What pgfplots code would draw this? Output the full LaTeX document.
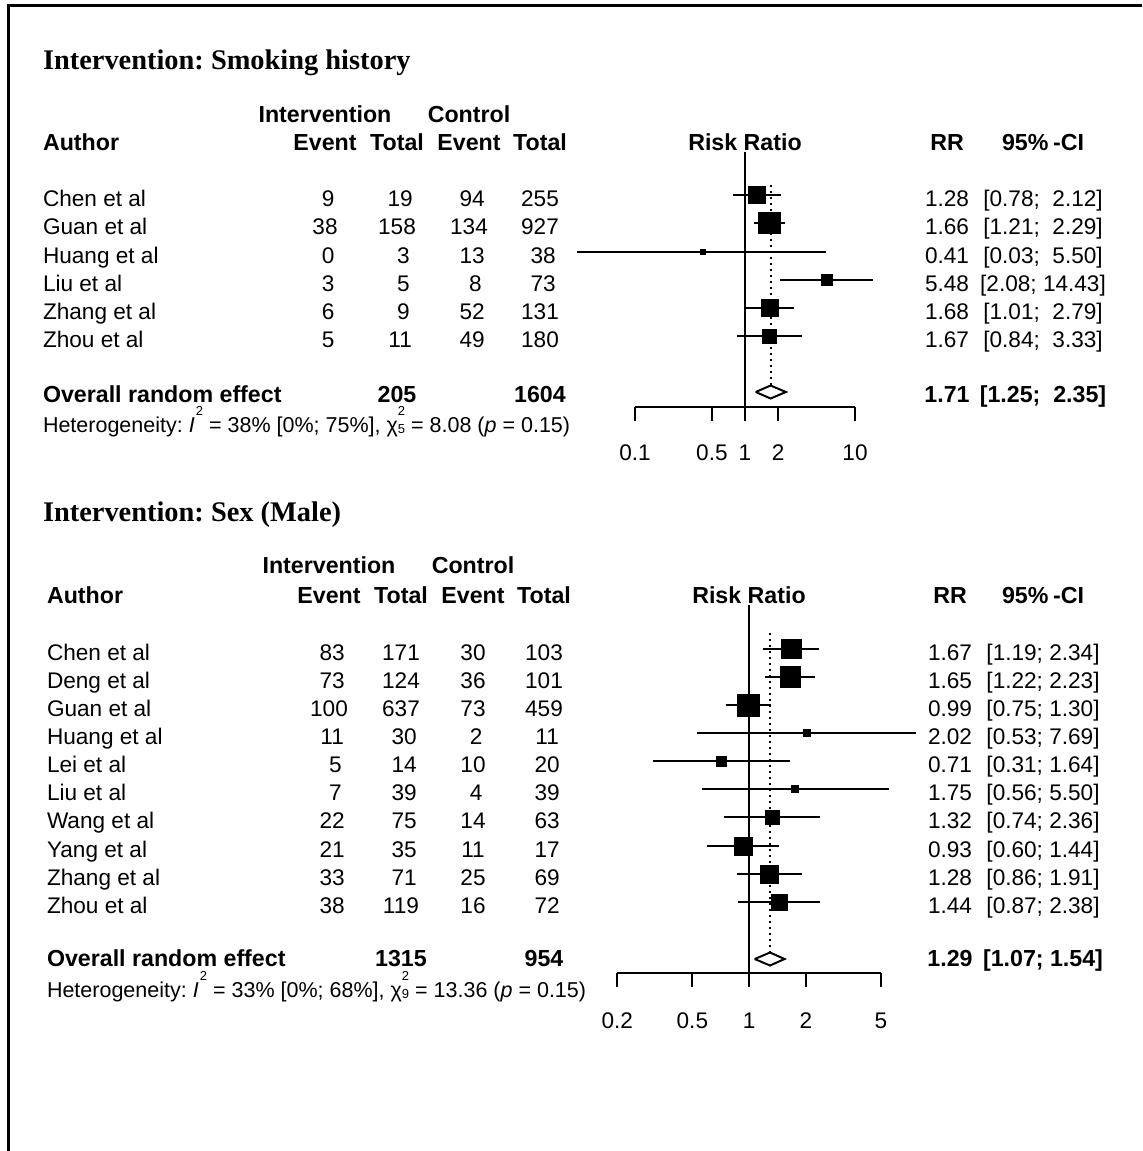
\documentclass[border=0pt]{standalone}
\usepackage{pgfplots}
\pgfplotsset{compat=1.18}
\usepackage{fontspec}
\setmainfont{Liberation Sans}
\newfontfamily\titlefont{Liberation Serif}

\newcommand{\bodyfont}{\fontsize{11.3}{13.5}\selectfont}
\newcommand{\boldfont}{\fontsize{11.6}{13.5}\selectfont\bfseries}
\newcommand{\hetfont}{\fontsize{10.75}{13}\selectfont}
\newcommand{\headfont}{\titlefont\bfseries\fontsize{14.2}{17}\selectfont}
% one blank of padding, as used to line up the number columns
\newcommand{\pd}{\hspace*{0.278em}}
% high superscript, set as in the heterogeneity line
\newcommand{\hsup}[1]{\smash{\raisebox{8.2pt}{\fontsize{6.5}{8}\selectfont #1}}}
% chi-square with degrees of freedom below and the square above
\newcommand{\chisq}[1]{χ\smash{\raisebox{-0.5pt}{\fontsize{6.5}{8}\selectfont
  \renewcommand{\arraystretch}{1.0875}\begin{tabular}[b]{@{}l@{}}2\\#1\end{tabular}}}}

% one table row: baseline, author, events/totals, RR, CI
\newcommand{\trow}[8]{%
  \node[anchor=base west] at (\xL,#1) {#2};
  \node[anchor=base] at (\cA,#1) {#3};
  \node[anchor=base] at (\cB,#1) {#4};
  \node[anchor=base] at (\cC,#1) {#5};
  \node[anchor=base] at (\cD,#1) {#6};
  \node[anchor=base] at (\cR,#1) {#7};
  \node[anchor=base] at (\cI,#1) {#8};}

\tikzset{
  ci/.style={black, line width=1pt},
  sq/.style={only marks, mark=square*, black, mark options={line width=0.2pt}},
  pooled/.style={black, line width=1pt, dash pattern=on 1pt off 2pt},
  px/.style={x=0.5pt, y=-0.5pt},
}

\begin{document}
\frenchspacing
\begin{tikzpicture}[font=\bodyfont]
\begin{scope}[px, every node/.style={inner sep=0pt, outer sep=0pt}]
\useasboundingbox (0,0) rectangle (1142,1151);
\draw[line width=1.6pt] (8.3,1151) -- (8.3,5.7) -- (1142,5.7);

% ================= Smoking history =================
\def\xL{43}\def\cA{325}\def\cB{397}\def\cC{469}\def\cD{540}\def\cR{947}\def\cI{1043}
\node[anchor=base west, font=\headfont] at (43,69) {Intervention: Smoking history};
\begin{scope}[every node/.append style={font=\boldfont}]
\node[anchor=base] at (\cA,122) {Intervention};
\node[anchor=base] at (\cC,122) {Control};
\trow{150}{Author}{Event}{Total}{Event}{Total}{RR}{95\%\kern0.2em-CI}
\node[anchor=base] at (745,150) {Risk Ratio};
\end{scope}
\trow{206}{Chen et al}{\pd9}{\pd19}{\pd94}{255}{1.28}{[0.78;\pd\pd2.12]}
\trow{234}{Guan et al}{38}{158}{134}{927}{1.66}{[1.21;\pd\pd2.29]}
\trow{263}{Huang et al}{\pd0}{\pd\pd3}{\pd13}{\pd38}{0.41}{[0.03;\pd\pd5.50]}
\trow{291}{Liu et al}{\pd3}{\pd\pd5}{\pd\pd8}{\pd73}{5.48}{[2.08;\pd14.43]}
\trow{319}{Zhang et al}{\pd6}{\pd\pd9}{\pd52}{131}{1.68}{[1.01;\pd\pd2.79]}
\trow{347}{Zhou et al}{\pd5}{\pd11}{\pd49}{180}{1.67}{[0.84;\pd\pd3.33]}
\begin{scope}[every node/.append style={font=\boldfont}]
\node[anchor=base west] at (\xL,402) {Overall random effect};
\node[anchor=base] at (\cB,402) {205};
\node[anchor=base] at (\cD,402) {1604};
\node[anchor=base] at (\cR,402) {1.71};
\node[anchor=base] at (\cI,402) {[1.25;\pd\pd2.35]};
\end{scope}
\node[anchor=base west, font=\hetfont] at (\xL,432) {Heterogeneity: \textit{I}\kern0.6pt\hsup{2} = 38\% [0\%; 75\%], \chisq{5} = 8.08 (\textit{p} = 0.15)};

% ================= Sex (Male) =================
\def\xL{47}\def\cA{329}\def\cB{401}\def\cC{473}\def\cD{544}\def\cR{950}\def\cI{1043}
\node[anchor=base west, font=\headfont] at (43,521) {Intervention: Sex (Male)};
\begin{scope}[every node/.append style={font=\boldfont}]
\node[anchor=base] at (\cA,573) {Intervention};
\node[anchor=base] at (\cC,573) {Control};
\trow{603}{Author}{Event}{Total}{Event}{Total}{RR}{95\%\kern0.2em-CI}
\node[anchor=base] at (749,603) {Risk Ratio};
\end{scope}
\trow{660}{Chen et al}{\pd83}{171}{30}{103}{1.67}{[1.19; 2.34]}
\trow{688}{Deng et al}{\pd73}{124}{36}{101}{1.65}{[1.22; 2.23]}
\trow{716}{Guan et al}{100}{637}{73}{459}{0.99}{[0.75; 1.30]}
\trow{744}{Huang et al}{\pd11}{\pd30}{\pd2}{\pd11}{2.02}{[0.53; 7.69]}
\trow{772}{Lei et al}{\pd\pd5}{\pd14}{10}{\pd20}{0.71}{[0.31; 1.64]}
\trow{800}{Liu et al}{\pd\pd7}{\pd39}{\pd4}{\pd39}{1.75}{[0.56; 5.50]}
\trow{828}{Wang et al}{\pd22}{\pd75}{14}{\pd63}{1.32}{[0.74; 2.36]}
\trow{857}{Yang et al}{\pd21}{\pd35}{11}{\pd17}{0.93}{[0.60; 1.44]}
\trow{885}{Zhang et al}{\pd33}{\pd71}{25}{\pd69}{1.28}{[0.86; 1.91]}
\trow{913}{Zhou et al}{\pd38}{119}{16}{\pd72}{1.44}{[0.87; 2.38]}
\begin{scope}[every node/.append style={font=\boldfont}]
\node[anchor=base west] at (\xL,966) {Overall random effect};
\node[anchor=base] at (\cB,966) {1315};
\node[anchor=base] at (\cD,966) {954};
\node[anchor=base] at (\cR,966) {1.29};
\node[anchor=base] at (\cI,966) {[1.07; 1.54]};
\end{scope}
\node[anchor=base west, font=\hetfont] at (\xL,997) {Heterogeneity: \textit{I}\kern0.6pt\hsup{2} = 33\% [0\%; 68\%], \chisq{9} = 13.36 (\textit{p} = 0.15)};
\end{scope}

% ---------- forest panel: smoking history ----------
\begin{axis}[scale only axis, xmode=log, log basis x=10,
  clip=false, hide y axis, axis line style={draw=none},
  xtick pos=left, xtick align=outside, major tick length=7pt,
  minor xtick={}, tick style={black, line width=1pt},
  xticklabel style={font=\bodyfont, anchor=base, inner sep=0pt, yshift=-19.5pt},
  at={(317.5pt,-203.5pt)}, anchor=south west,
  width=110pt, height=127.5pt,
  xmin=0.1, xmax=10, ymin=-407, ymax=-152,
  xtick={0.1,0.5,1,2,10}, xticklabels={0.1,0.5,1,2,10}]
  \addplot[ci] coordinates {(0.1,-407) (10,-407)};
  \addplot[ci] coordinates {(1,-407) (1,-152)};
  \addplot[pooled] coordinates {(1.71,-185) (1.71,-385)};
  % confidence intervals
  \addplot[ci] coordinates {(0.78,-195) (2.12,-195)};
  \addplot[ci] coordinates {(1.21,-223) (2.29,-223)};
  \addplot[ci] coordinates {(0.03,-252) (5.50,-252)};
  \addplot[ci] coordinates {(2.08,-280) (14.43,-280)};
  \addplot[ci] coordinates {(1.01,-308) (2.79,-308)};
  \addplot[ci] coordinates {(0.84,-336) (3.33,-336)};
  % study estimates, square size by weight
  \addplot[sq, mark size=4.23pt] coordinates {(1.28,-195)};
  \addplot[sq, mark size=5.33pt] coordinates {(1.66,-223)};
  \addplot[sq, mark size=1.33pt] coordinates {(0.41,-252)};
  \addplot[sq, mark size=2.73pt] coordinates {(5.48,-280)};
  \addplot[sq, mark size=4.23pt] coordinates {(1.68,-308)};
  \addplot[sq, mark size=3.48pt] coordinates {(1.67,-336)};
  % pooled estimate
  \addplot[black, line width=1pt, fill=white] coordinates {(1.25,-392) (1.71,-385.5) (2.35,-392) (1.71,-398.5) (1.25,-392)};
\end{axis}

% ---------- forest panel: sex (male) ----------
\begin{axis}[scale only axis, xmode=log, log basis x=10,
  clip=false, hide y axis, axis line style={draw=none},
  xtick pos=left, xtick align=outside, major tick length=7pt,
  minor xtick={}, tick style={black, line width=1pt},
  xticklabel style={font=\bodyfont, anchor=base, inner sep=0pt, yshift=-20.5pt},
  at={(308.65pt,-486.5pt)}, anchor=south west,
  width=131.85pt, height=184pt,
  xmin=0.2, xmax=5, ymin=-973, ymax=-605,
  xtick={0.2,0.5,1,2,5}, xticklabels={0.2,0.5,1,2,5}]
  \addplot[ci] coordinates {(0.2,-973) (5,-973)};
  \addplot[ci] coordinates {(1,-973) (1,-605)};
  \addplot[pooled] coordinates {(1.29,-633) (1.29,-952)};
  % confidence intervals
  \addplot[ci] coordinates {(1.19,-649) (2.34,-649)};
  \addplot[ci] coordinates {(1.22,-677) (2.23,-677)};
  \addplot[ci] coordinates {(0.75,-705) (1.30,-705)};
  \addplot[ci] coordinates {(0.53,-733) (7.69,-733)};
  \addplot[ci] coordinates {(0.31,-761) (1.64,-761)};
  \addplot[ci] coordinates {(0.56,-789) (5.50,-789)};
  \addplot[ci] coordinates {(0.74,-817) (2.36,-817)};
  \addplot[ci] coordinates {(0.60,-846) (1.44,-846)};
  \addplot[ci] coordinates {(0.86,-874) (1.91,-874)};
  \addplot[ci] coordinates {(0.87,-902) (2.38,-902)};
  % study estimates, square size by weight
  \addplot[sq, mark size=4.83pt] coordinates {(1.67,-649)};
  \addplot[sq, mark size=5.23pt] coordinates {(1.65,-677)};
  \addplot[sq, mark size=5.58pt] coordinates {(0.99,-705)};
  \addplot[sq, mark size=1.73pt] coordinates {(2.02,-733)};
  \addplot[sq, mark size=2.65pt] coordinates {(0.71,-761)};
  \addplot[sq, mark size=1.73pt] coordinates {(1.75,-789)};
  \addplot[sq, mark size=3.48pt] coordinates {(1.32,-817)};
  \addplot[sq, mark size=4.40pt] coordinates {(0.93,-846)};
  \addplot[sq, mark size=4.48pt] coordinates {(1.28,-874)};
  \addplot[sq, mark size=4.08pt] coordinates {(1.44,-902)};
  % pooled estimate
  \addplot[black, line width=1pt, fill=white] coordinates {(1.07,-959) (1.29,-952.5) (1.54,-959) (1.29,-965.5) (1.07,-959)};
\end{axis}
\end{tikzpicture}
\end{document}
